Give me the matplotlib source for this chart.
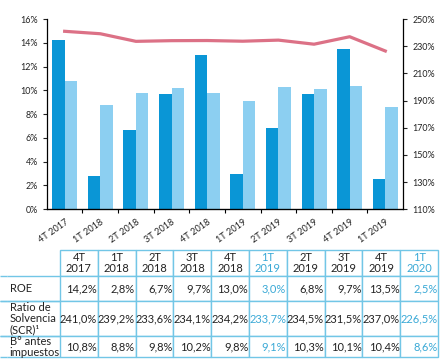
import matplotlib
matplotlib.use("Agg")
import matplotlib.pyplot as plt
import numpy as np

plt.rcParams['font.family'] = ['Lato', 'DejaVu Sans']

# data
chart_labels = ["4T 2017", "1T 2018", "2T 2018", "3T 2018", "4T 2018",
                "1T 2019", "2T 2019", "3T 2019", "4T 2019", "1T 2019"]
table_headers = ["4T\n2017", "1T\n2018", "2T\n2018", "3T\n2018", "4T\n2018",
                 "1T\n2019", "2T\n2019", "3T\n2019", "4T\n2019", "1T\n2020"]
roe = [14.2, 2.8, 6.7, 9.7, 13.0, 3.0, 6.8, 9.7, 13.5, 2.5]
solvencia = [241.0, 239.2, 233.6, 234.1, 234.2, 233.7, 234.5, 231.5, 237.0, 226.5]
beneficio = [10.8, 8.8, 9.8, 10.2, 9.8, 9.1, 10.3, 10.1, 10.4, 8.6]
row_labels = ["ROE", "Ratio de\nSolvencia\n(SCR)\u00b9", "B\u00b0 antes\nimpuestos"]
highlight_cols = [5, 9]

dark_blue = "#0a96d6"
light_blue = "#8ccff1"
pink = "#dc7186"
border = "#72c6e6"
hl_text = "#3aa9d6"
txt = "#222222"

fig = plt.figure(figsize=(4.42, 3.60), dpi=100)

# ---- chart ----
ax = fig.add_axes([0.106, 0.419, 0.806, 0.528])
x = np.arange(len(chart_labels))
w = 0.35
ax.bar(x - w / 2, roe, w, color=dark_blue, zorder=2)
ax.bar(x + w / 2, beneficio, w, color=light_blue, zorder=2)
ax.set_xlim(-0.5, len(x) - 0.5)
ax.set_ylim(0, 16)
ax.set_yticks(np.arange(0, 17, 2))
ax.set_yticklabels([f"{v}%" for v in range(0, 17, 2)])
ax.set_xticks(x)
ax.set_xticklabels(chart_labels, rotation=35, ha="right", rotation_mode="anchor")
ax.set_xticks(x[:-1] + 0.5, minor=True)
ax.tick_params(axis="x", which="major", length=0, pad=6, labelsize=6.6, colors=txt)
ax.tick_params(axis="x", which="minor", length=3, width=0.8)
ax.tick_params(axis="y", length=3, width=0.8, labelsize=6.4, colors=txt)
ax.spines["top"].set_visible(False)
ax.spines["right"].set_visible(False)
for s in ["left", "bottom"]:
    ax.spines[s].set_linewidth(0.9)

ax2 = ax.twinx()
ax2.plot(x, solvencia, color=pink, lw=2.3, zorder=3)
ax2.set_ylim(110, 250)
ax2.set_yticks(np.arange(110, 251, 20))
ax2.set_yticklabels([f"{v}%" for v in range(110, 251, 20)])
ax2.tick_params(axis="y", length=3, width=0.8, labelsize=6.4, colors=txt)
ax2.spines["top"].set_visible(False)
ax2.spines["left"].set_visible(False)
ax2.spines["right"].set_linewidth(0.9)


# ---- table ----
def fmt(v):
    return f"{v:.1f}%".replace(".", ",")


tax = fig.add_axes([0.0, 0.008, 0.991, 0.298])
tax.axis("off")
cells = [["", ""] + table_headers]
for lab, vals in zip(row_labels, [roe, solvencia, beneficio]):
    cells.append(["", lab] + [fmt(v) for v in vals])

tbl = tax.table(cellText=cells, bbox=[0, 0, 1, 1], cellLoc="right")
tbl.auto_set_font_size(False)
tbl.set_fontsize(8)

row_h = [26, 25, 35, 21]
col_w = [7, 53] + [37.8] * len(table_headers)
strip_colors = [dark_blue, pink, light_blue]
for (r, c), cell in tbl.get_celld().items():
    cell.set_height(row_h[r])
    cell.set_width(col_w[c])
    cell.set_edgecolor(border)
    cell.set_linewidth(1.0)
    t = cell.get_text()
    t.set_color(txt)
    if c == 0:
        cell.visible_edges = "" if r == 0 else "TB"
        if r > 0:
            cell.set_facecolor(strip_colors[r - 1])
    elif c == 1:
        cell.visible_edges = "" if r == 0 else "TB"
        t.set_ha("left")
        cell.PAD = 0.05
        t.set_linespacing(1.0)
    else:
        if r == 0:
            t.set_ha("center")
            t.set_linespacing(1.0)
        else:
            cell.PAD = 0.02
        if (c - 2) in highlight_cols:
            t.set_color(hl_text)

fig.savefig("out.png", dpi=100)
